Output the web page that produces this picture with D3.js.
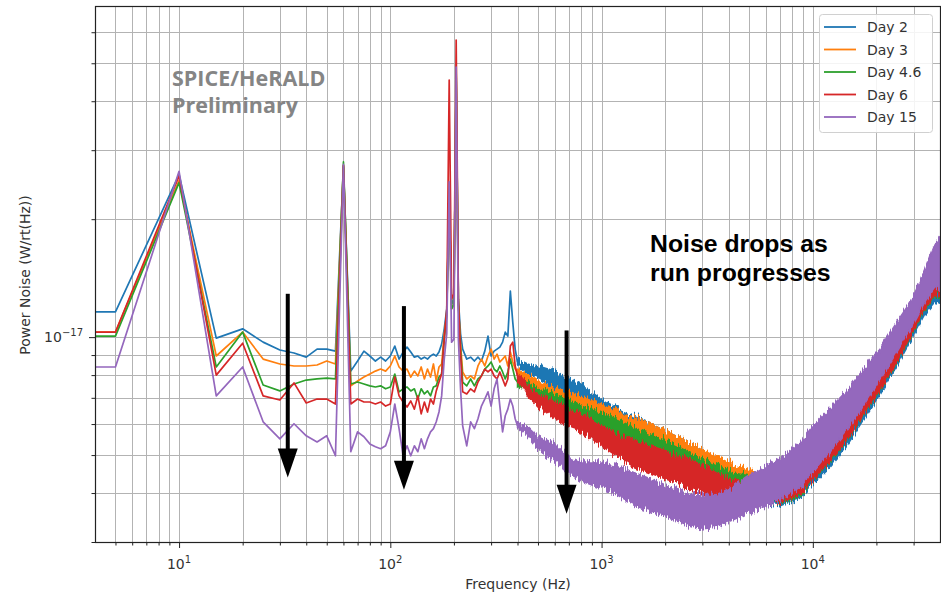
<!DOCTYPE html>
<html><head><meta charset="utf-8">
<script src="https://cdn.jsdelivr.net/npm/d3@7"></script>
<style>body{margin:0;background:#fff}svg{display:block}</style>
</head><body>
<svg id="chart" width="941" height="595"></svg>
<script>
// ---------------- DATA (values in units of 1e-18 W/rt(Hz)) ----------------
const seriesNames  = ["Day 2", "Day 3", "Day 4.6", "Day 6", "Day 15"];
const seriesColors = ["#1f77b4", "#ff7f0e", "#2ca02c", "#d62728", "#9467bd"];

// low-frequency part of each trace (Hz)
const lowFreq = [4,5,10,15,20,25,30,35,40,45,50,55,60,65,70,75,80,85,90,95,100,105,110,115,120,125,130,135,140,145,150,155,160,165,170,175,180,185,190,195,200,205,210,215,220,230,240,250,260,270,280,290,300,310,320,330,340,350,360,370,380,390,400];
const day2Low  = [11.6,11.6,26.0,9.94,10.5,9.71,9.27,9.11,8.89,9.32,9.32,9.21,27.2,8.19,8.69,9.21,8.95,8.69,8.89,8.69,8.95,9.49,8.79,9.16,9.43,9.16,8.89,8.95,8.79,8.89,8.79,8.95,9.05,8.95,9.16,9.60,10.5,11.8,23.0,12.1,12.5,46.0,12.5,10.2,9.32,8.79,8.89,8.69,8.89,8.69,9.21,10.06,8.95,9.21,9.32,9.43,9.71,10.3,10.06,13.1,10.9,9.32,8.64];
const day3Low  = [10.3,10.3,25.1,8.95,10.3,8.79,8.54,8.44,8.44,8.49,8.69,8.54,27.4,7.51,7.73,7.91,8.05,8.19,8.29,8.19,8.44,8.95,8.39,8.19,8.29,7.91,8.19,7.96,8.39,7.82,8.29,7.91,8.54,7.73,8.39,8.54,10.2,11.4,23.5,11.8,12.1,46.5,12.1,9.60,8.15,7.82,7.96,7.82,8.44,8.79,8.44,8.95,9.32,8.79,9.05,8.64,8.79,8.95,8.44,9.16,8.64,8.29,8.15];
const day46Low = [10.06,10.06,24.8,8.39,10.3,7.55,7.29,7.59,7.77,7.82,7.86,7.82,28.0,7.59,7.68,7.59,7.51,7.46,7.51,7.38,7.46,8.05,7.25,7.38,7.46,7.29,7.38,6.95,7.38,7.16,7.29,7.08,7.46,7.51,7.91,8.05,9.88,11.4,24.0,11.8,12.1,47.0,12.1,9.32,7.68,7.51,7.82,7.51,7.82,7.96,8.29,8.44,8.64,8.29,8.15,8.44,8.15,7.82,8.15,8.79,8.29,7.82,7.68];
const day6Low  = [10.3,10.3,25.8,8.00,9.65,7.08,6.91,7.64,6.79,6.95,6.95,6.75,27.4,6.75,6.95,6.83,6.83,6.75,6.83,6.67,6.75,7.91,7.08,6.83,6.63,6.87,6.55,7.08,6.37,6.83,6.44,6.95,6.75,7.29,7.68,8.05,9.88,11.8,45.3,12.5,12.9,57.3,12.5,9.05,7.25,7.16,7.38,7.25,7.68,7.96,8.29,8.15,8.29,7.96,7.82,8.15,7.82,7.51,7.82,9.49,9.71,8.44,7.96];
const day15Low = [8.39,8.39,26.5,7.08,8.39,6.08,5.50,6.01,5.60,5.40,5.60,4.98,27.6,5.10,5.73,5.57,5.34,5.25,5.19,5.28,5.73,6.75,5.84,4.98,5.28,4.98,5.28,5.10,5.50,5.19,5.50,5.73,5.84,6.08,6.44,7.08,8.79,10.2,24.9,9.71,9.88,48.9,9.88,7.38,5.94,5.28,6.08,5.84,6.19,6.67,6.95,7.25,6.67,7.38,7.82,6.67,5.73,6.30,6.55,6.95,6.67,6.19,5.94];

// high-frequency part: the dense noisy trace, read as upper / lower envelope
const bandFreq = [400,450,500,600,700,800,1000,1200,1400,1700,2000,2400,2900,3500,4200,5000,6000,7000,8600,10000,12000,14300,17000,20800,25000,29500,34000,38000,40000];
const day2Hi  = [8.79,8.53,8.39,8.15,7.82,7.54,6.95,6.56,6.30,6.01,5.76,5.50,5.19,4.89,4.61,4.45,4.40,4.45,4.75,5.19,5.76,6.48,7.28,8.58,10.05,11.78,13.89,16.07,16.55];
const day2Lo  = [8.49,8.05,7.91,7.46,7.16,6.95,6.37,5.76,5.50,5.19,4.95,4.75,4.50,4.27,4.05,3.87,3.76,3.71,3.87,4.22,4.66,5.22,6.05,7.16,8.44,9.94,11.50,12.34,12.20];
const day3Hi  = [8.29,8.00,7.73,7.46,7.24,7.03,6.75,6.45,6.23,6.01,5.76,5.50,5.19,4.95,4.72,4.56,4.45,4.40,4.66,5.28,5.93,6.71,7.54,8.84,10.36,12.06,14.30,16.55,17.04];
const day3Lo  = [8.01,7.54,7.28,6.75,6.48,6.26,6.01,5.56,5.34,5.13,4.95,4.75,4.56,4.35,4.15,4.00,3.87,3.78,3.94,4.35,4.83,5.44,6.26,7.37,8.69,10.24,11.92,12.86,12.64];
const day46Hi = [7.82,7.64,7.41,7.16,6.91,6.71,6.41,6.15,5.90,5.66,5.44,5.19,4.92,4.69,4.50,4.43,4.38,4.43,4.69,5.28,5.93,6.67,7.50,8.79,10.30,11.99,14.21,16.46,16.95];
const day46Lo = [7.55,7.24,7.03,6.56,6.34,6.15,5.76,5.44,5.25,5.00,4.80,4.58,4.35,4.15,4.00,3.92,3.80,3.76,3.92,4.30,4.80,5.37,6.23,7.33,8.64,10.17,11.85,12.78,12.56];
const day6Hi  = [8.10,7.46,7.16,6.83,6.56,6.41,5.93,5.66,5.47,5.28,5.13,4.95,4.75,4.50,4.32,4.25,4.30,4.43,4.72,5.31,5.97,6.71,7.54,8.84,10.36,12.06,14.30,16.55,17.04];
const day6Lo  = [7.82,7.03,6.67,6.19,5.90,5.76,5.28,4.95,4.69,4.50,4.35,4.20,4.05,3.92,3.85,3.82,3.80,3.78,3.96,4.32,4.83,5.40,6.26,7.37,8.69,10.24,11.92,12.86,12.71];
const day15Hi = [6.05,5.90,5.60,5.34,4.95,4.80,4.80,4.69,4.53,4.35,4.17,4.05,3.98,3.96,4.15,4.43,4.69,4.92,5.34,5.93,6.56,7.24,8.15,9.32,10.92,12.49,14.89,17.45,18.07];
const day15Lo = [5.84,5.56,5.19,4.83,4.50,4.30,4.10,3.94,3.76,3.61,3.48,3.36,3.25,3.29,3.42,3.56,3.71,3.85,4.10,4.53,5.10,5.73,6.56,7.82,9.16,10.66,12.34,13.41,13.10];

const lowValues  = [day2Low, day3Low, day46Low, day6Low, day15Low];
const bandHi     = [day2Hi, day3Hi, day46Hi, day6Hi, day15Hi];
const bandLo     = [day2Lo, day3Lo, day46Lo, day6Lo, day15Lo];
const UNIT = 1e-18;

// axis ticks
const xMajorTicks = [10, 100, 1000, 10000];
const xTickExp    = ["1", "2", "3", "4"];
const yMajorTicks = [1e-17];
const yTickExp    = ["\u221217"];

// annotation arrows (frequency, start value, tip value in 1e-18 units)
const arrowFreq = [32.7, 116, 683];
const arrowFrom = [12.9, 12.0, 10.4];
const arrowTo   = [4.38, 4.08, 3.54];

// ---------------- CHART ----------------
const P = {left: 95, right: 940, top: 6, bottom: 542};
const svg = d3.select("#chart");

const x = d3.scaleLog().domain([4, 40000]).range([P.left, P.right]);
const y = d3.scaleLog().domain([3e-18, 7e-17]).range([P.bottom, P.top]);

const defs = svg.append("defs");
defs.append("clipPath").attr("id", "plotclip")
  .append("rect").attr("x", P.left).attr("y", P.top)
  .attr("width", P.right - P.left).attr("height", P.bottom - P.top);

// rendering texture for the dense, noisy high-frequency traces (vertical jitter only)
const flt = defs.append("filter").attr("id", "jitter").attr("filterUnits", "userSpaceOnUse")
  .attr("x", 0).attr("y", 0).attr("width", 941).attr("height", 595);
flt.append("feTurbulence").attr("type", "fractalNoise").attr("baseFrequency", "0.7 0.04")
  .attr("numOctaves", 2).attr("seed", 3).attr("result", "noise");
flt.append("feColorMatrix").attr("in", "noise").attr("type", "matrix")
  .attr("values", "0 0 0 0 0.5  0 1 0 0 0  0 0 0 0 0  0 0 0 0 1").attr("result", "vnoise");
flt.append("feDisplacementMap").attr("in", "SourceGraphic").attr("in2", "vnoise")
  .attr("scale", 14).attr("xChannelSelector", "R").attr("yChannelSelector", "G");

// minor tick values
const xMinor = [];
[1, 10, 100, 1000, 10000].forEach(d => { for (let k = 2; k <= 9; k++) { const v = d * k; if (v > 4 && v < 40000) xMinor.push(v); } });
const yMinor = [];
[1e-18, 1e-17].forEach(d => { for (let k = 2; k <= 9; k++) { const v = d * k; if (v > 3e-18 && v < 7e-17) yMinor.push(v); } });

// grid
const grid = svg.append("g").attr("stroke", "#b3b3b3").attr("stroke-width", 1).attr("shape-rendering", "crispEdges");
xMinor.concat(xMajorTicks).forEach(v => {
  const px = Math.round(x(v)) + 0.5;
  grid.append("line").attr("x1", px).attr("x2", px).attr("y1", P.top).attr("y2", P.bottom);
});
yMinor.concat(yMajorTicks).forEach(v => {
  const py = Math.round(y(v)) + 0.5;
  grid.append("line").attr("x1", P.left).attr("x2", P.right).attr("y1", py).attr("y2", py);
});

// axes (ticks) via d3 axis generators
const xAxisMajor = d3.axisBottom(x).tickValues(xMajorTicks).tickSize(6).tickFormat("");
const xAxisMinor = d3.axisBottom(x).tickValues(xMinor).tickSize(3.5).tickFormat("");
const yAxisMajor = d3.axisLeft(y).tickValues(yMajorTicks).tickSize(6).tickFormat("");
const yAxisMinor = d3.axisLeft(y).tickValues(yMinor).tickSize(3.5).tickFormat("");
[xAxisMajor, xAxisMinor].forEach(a => {
  const g = svg.append("g").attr("transform", `translate(0,${P.bottom})`).call(a);
  g.select(".domain").remove();
  g.selectAll("line").attr("stroke", "#222");
});
[yAxisMajor, yAxisMinor].forEach(a => {
  const g = svg.append("g").attr("transform", `translate(${P.left},0)`).call(a);
  g.select(".domain").remove();
  g.selectAll("line").attr("stroke", "#222");
});

const font = "'DejaVu Sans', sans-serif";
xMajorTicks.forEach((v, i) => {
  const t = svg.append("text").attr("x", x(v)).attr("y", 569).attr("text-anchor", "middle")
    .attr("font-family", font).attr("font-size", 14).attr("fill", "#333");
  t.append("tspan").text("10");
  t.append("tspan").attr("dy", -6).attr("font-size", 10).text(xTickExp[i]);
});
yMajorTicks.forEach((v, i) => {
  const t = svg.append("text").attr("x", 83).attr("y", y(v) + 5).attr("text-anchor", "end")
    .attr("font-family", font).attr("font-size", 14).attr("fill", "#333");
  t.append("tspan").text("10");
  t.append("tspan").attr("dy", -6).attr("font-size", 10).text(yTickExp[i]);
});

svg.append("text").attr("x", 518).attr("y", 589).attr("text-anchor", "middle")
  .attr("font-family", font).attr("font-size", 14).attr("fill", "#333").text("Frequency (Hz)");
svg.append("text").attr("transform", "translate(30,275) rotate(-90)").attr("text-anchor", "middle")
  .attr("font-family", font).attr("font-size", 14).attr("fill", "#333").text("Power Noise (W/rt(Hz))");

// data traces
const plot = svg.append("g").attr("clip-path", "url(#plotclip)");
const line = d3.line().x(d => x(d[0])).y(d => y(d[1]));
const area = d3.area().x(d => x(d.f)).y0(d => y(d.lo)).y1(d => y(d.hi));

seriesNames.forEach((name, i) => {
  const pts = lowFreq.map((f, j) => [f, lowValues[i][j] * UNIT]);
  plot.append("path").attr("d", line(pts)).attr("fill", "none")
    .attr("stroke", seriesColors[i]).attr("stroke-width", 1.7).attr("stroke-linejoin", "round");
  const band = bandFreq.map((f, j) => ({f: f, hi: bandHi[i][j] * UNIT, lo: bandLo[i][j] * UNIT}));
  plot.append("g").attr("filter", "url(#jitter)")
    .append("path").attr("d", area(band)).attr("fill", seriesColors[i])
    .attr("stroke", seriesColors[i]).attr("stroke-width", 1.5).attr("stroke-linejoin", "round");
});

// spines
svg.append("rect").attr("x", P.left + 0.5).attr("y", P.top + 0.5)
  .attr("width", P.right - P.left).attr("height", P.bottom - P.top)
  .attr("fill", "none").attr("stroke", "#222").attr("stroke-width", 1.2);

// legend
const lg = svg.append("g");
lg.append("rect").attr("x", 819.5).attr("y", 14.5).attr("width", 113).attr("height", 118).attr("rx", 3)
  .attr("fill", "#fff").attr("fill-opacity", 0.85).attr("stroke", "#d0d0d0");
seriesNames.forEach((name, i) => {
  const yy = 27 + i * 22.5;
  lg.append("line").attr("x1", 824).attr("x2", 856).attr("y1", yy).attr("y2", yy)
    .attr("stroke", seriesColors[i]).attr("stroke-width", 1.8);
  lg.append("text").attr("x", 867).attr("y", yy + 5).attr("font-family", font).attr("font-size", 14)
    .attr("fill", "#333").text(name);
});

// annotations
const t1 = svg.append("text").attr("font-family", "'Open Sans', 'Noto Sans', sans-serif").attr("font-weight", 700)
  .attr("font-size", 21.5).attr("fill", "#858585");
t1.append("tspan").attr("x", 172).attr("y", 86).text("SPICE/HeRALD");
t1.append("tspan").attr("x", 172).attr("y", 113).text("Preliminary");
const t2 = svg.append("text").attr("font-family", "'Liberation Sans', Arial, sans-serif").attr("font-weight", 700)
  .attr("font-size", 24.8).attr("fill", "#000");
t2.append("tspan").attr("x", 650).attr("y", 252).text("Noise drops as");
t2.append("tspan").attr("x", 650).attr("y", 281).text("run progresses");

arrowFreq.forEach((f, i) => {
  const ax = x(f), y0 = y(arrowFrom[i] * UNIT), y1 = y(arrowTo[i] * UNIT);
  svg.append("rect").attr("x", ax - 2).attr("y", y0).attr("width", 4).attr("height", y1 - 28 - y0 + 1).attr("fill", "#000");
  svg.append("path").attr("d", `M${ax - 10},${y1 - 29}L${ax + 10},${y1 - 29}L${ax},${y1}Z`).attr("fill", "#000");
});
</script>
</body></html>
